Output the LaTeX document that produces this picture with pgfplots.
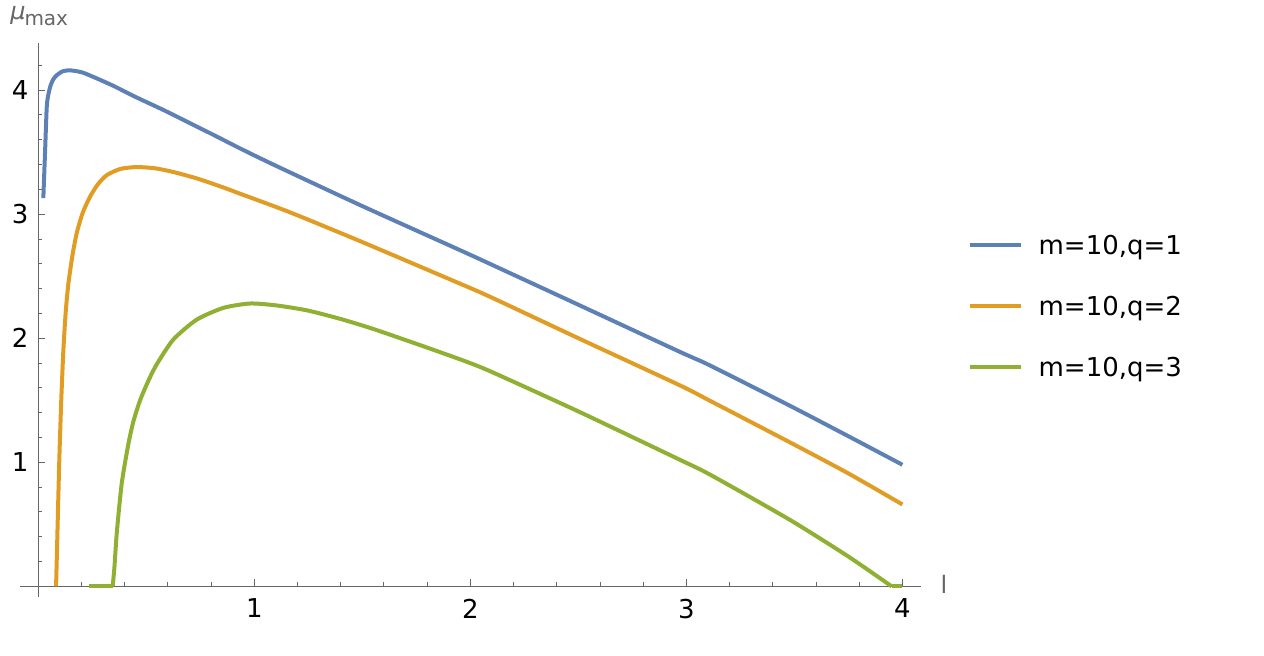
\documentclass[border=0pt]{standalone}
\usepackage{pgfplots}
\pgfplotsset{compat=1.18}
\usepackage{fontspec}
\setmainfont{DejaVu Sans}
\definecolor{c1}{HTML}{5E81B5}
\definecolor{c2}{HTML}{E19C24}
\definecolor{c3}{HTML}{8FB032}
\definecolor{axgray}{HTML}{666666}
\begin{document}
\begin{tikzpicture}
\useasboundingbox (-10pt,-29pt) rectangle (622pt,298.5pt);
\begin{axis}[
  scale only axis, width=450.5pt, height=277pt,
  xmin=-0.085, xmax=4.086, ymin=-0.086, ymax=4.38,
  axis lines=middle,
  axis line style={-, axgray, line width=0.6pt},
  clip=false,
  xtick={1,2,3,4}, ytick={1,2,3,4},
  minor xtick={0.2,0.4,0.6,0.8,1.2,1.4,1.6,1.8,2.2,2.4,2.6,2.8,3.2,3.4,3.6,3.8},
  minor ytick={0.2,0.4,0.6,0.8,1.2,1.4,1.6,1.8,2.2,2.4,2.6,2.8,3.2,3.4,3.6,3.8,4.2},
  tick align=inside,
  major tick length=3.5pt, minor tick length=2pt,
  every tick/.style={axgray, line width=0.5pt},
  /pgf/number format/assume math mode=true,
  every tick label/.append style={font=\fontsize{13}{15}\selectfont, text=black},
  xticklabel style={yshift=-2.7pt},
  yticklabel style={xshift=-1.4pt},
  legend style={at={(axis cs:4.30,2.835)}, anchor=north west, draw=none, fill=none,
    inner sep=0pt, font=\fontsize{13}{15}\selectfont, row sep=21pt, column sep=8pt,
    nodes={inner sep=0pt, text height=9.5pt, text depth=0pt}},
  legend cell align=left,
  legend image code/.code={\draw[#1, line width=2pt] (0pt,0pt) -- (25.5pt,0pt);},
]
\addplot[c1, line width=2pt, smooth, tension=0.4] coordinates {
(0.023,3.13) (0.031,3.50) (0.039,3.87) (0.047,3.97) (0.057,4.04) (0.070,4.09)
(0.085,4.12) (0.110,4.15) (0.139,4.16) (0.170,4.155) (0.208,4.14) (0.27,4.095)
(0.347,4.035) (0.45,3.945) (0.579,3.84) (0.70,3.735) (0.81,3.64) (0.934,3.53)
(1.10,3.39) (1.5,3.065) (1.952,2.71) (2.09,2.60) (2.5,2.27) (2.97,1.89)
(3.11,1.78) (3.48,1.455) (3.75,1.21) (4.0,0.98)};
\addlegendentry{m=10,q=1}
\addplot[c2, line width=2pt, smooth, tension=0.4] coordinates {
(0.082,0) (0.090,0.55) (0.097,1.02) (0.106,1.50) (0.116,1.91) (0.127,2.22)
(0.139,2.44) (0.158,2.67) (0.178,2.85) (0.205,3.01) (0.239,3.14) (0.275,3.24)
(0.317,3.315) (0.38,3.365) (0.455,3.38) (0.54,3.37) (0.625,3.34) (0.74,3.285)
(0.857,3.215) (0.934,3.165) (1.165,3.015) (1.5,2.775) (1.952,2.44) (2.09,2.335)
(2.5,2.0) (2.97,1.62) (3.11,1.495) (3.48,1.16) (3.75,0.91) (4.0,0.66)};
\addlegendentry{m=10,q=2}
\addplot[c3, line width=2pt, smooth, tension=0.4] coordinates {
(0.344,0) (0.352,0.15) (0.363,0.43) (0.386,0.83) (0.417,1.15)
(0.44,1.33) (0.471,1.50) (0.51,1.66) (0.548,1.79) (0.625,1.99) (0.733,2.15)
(0.857,2.245) (0.98,2.28) (1.10,2.265) (1.243,2.225) (1.40,2.155) (1.55,2.075)
(1.75,1.955) (1.952,1.83) (2.09,1.735) (2.5,1.41) (2.97,1.02) (3.11,0.90)
(3.48,0.535) (3.75,0.24) (3.95,0)};
\addlegendentry{m=10,q=3}
\addplot[c3, line width=2pt, forget plot] coordinates {(0.236,0) (0.344,0)};
\addplot[c3, line width=2pt, forget plot] coordinates {(3.95,0) (4.0,0)};
\node[anchor=base west, inner sep=0pt, text=axgray, font=\fontsize{12}{14}\selectfont\itshape] at (axis cs:-0.131,4.57) {μ};
\node[anchor=base west, inner sep=0pt, text=axgray, font=\fontsize{10}{12}\selectfont] at (axis cs:-0.066,4.52) {max};
\node[anchor=base west, inner sep=0pt, text=axgray, font=\fontsize{12}{14}\selectfont] at (axis cs:4.175,-0.061) {l};
\end{axis}
\end{tikzpicture}
\end{document}
